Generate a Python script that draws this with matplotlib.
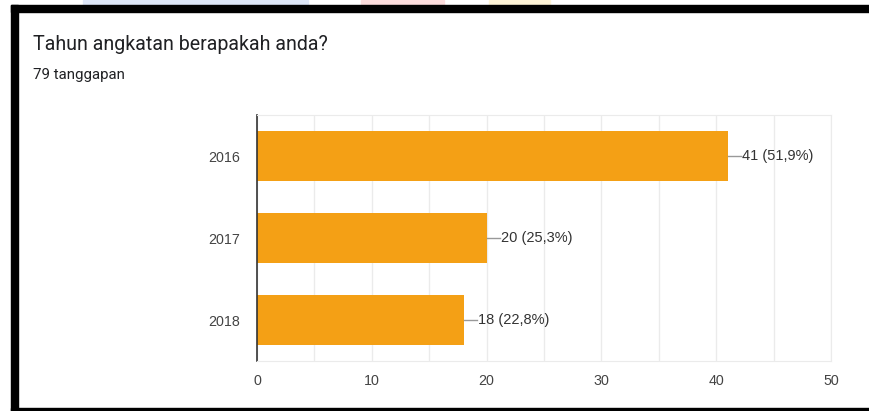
import matplotlib
matplotlib.use('Agg')
import matplotlib.pyplot as plt
from matplotlib.patches import Rectangle

title = 'Tahun angkatan berapakah anda?'
subtitle = '79 tanggapan'
years = ['2016', '2017', '2018']
counts = [41, 20, 18]
percents = ['51,9%', '25,3%', '22,8%']
x_ticks = [0, 10, 20, 30, 40, 50]

W, H = 870, 411
fig = plt.figure(figsize=(W / 100, H / 100), dpi=100)
fig.patch.set_facecolor('white')


def px(x, y):
    # pixel coords (top-left origin) -> figure fraction
    return x / W, 1 - y / H


# faded strips above the frame
for x0, x1, c in [(83, 308, '#dde6f7'), (361, 444, '#fbdcdc'), (489, 550, '#fdf3d6')]:
    fig.patches.append(Rectangle((x0 / W, 1 - 5 / H), (x1 - x0) / W, 5 / H,
                                 transform=fig.transFigure, color=c, zorder=0))

# black frame (top, left, bottom)
frame = [(11, 5, 870, 12), (11, 5, 18, 411), (11, 408, 870, 411)]
for x0, y0, x1, y1 in frame:
    fig.patches.append(Rectangle((x0 / W, 1 - y1 / H), (x1 - x0) / W, (y1 - y0) / H,
                                 transform=fig.transFigure, color='black', zorder=1))

fig.text(*px(33, 45), title, fontsize=14.1, family='Roboto', color='#202124', va='center')
fig.text(*px(33, 75), subtitle, fontsize=10.8, family='Roboto', color='#202124', va='center')

left, right, top, bottom = 257, 831, 115, 361
ax = fig.add_axes([left / W, 1 - bottom / H, (right - left) / W, (bottom - top) / H])

ypos = list(range(len(years)))
ax.barh(ypos, counts, height=0.61, color='#f4a015', zorder=2)
for y, c, p in zip(ypos, counts, percents):
    ax.plot([c, c + 1.2], [y, y], color='#999999', lw=1, zorder=3)
    ax.text(c + 1.25, y, f'{c} ({p})', va='center', ha='left', fontsize=10.5,
            family='Liberation Sans', color='#333333')

ax.set_xlim(0, 50)
ax.set_ylim(2.5, -0.5)
ax.set_yticks(ypos)
ax.set_yticklabels(years)
ax.set_xticks(x_ticks)
ax.set_xticks(range(5, 50, 10), minor=True)
ax.grid(axis='x', which='both', color='#ebebeb', lw=1, zorder=0)
ax.tick_params(which='both', length=0, labelsize=10.3, colors='#444444', pad=12)
ax.tick_params(axis='x', pad=9)
for lab in ax.get_xticklabels() + ax.get_yticklabels():
    lab.set_family('Liberation Sans')
for s in ['top', 'right', 'bottom']:
    ax.spines[s].set_color('#ebebeb')
ax.spines['left'].set_color('#333333')
ax.spines['left'].set_linewidth(1.2)

fig.savefig('out.png', dpi=100)
